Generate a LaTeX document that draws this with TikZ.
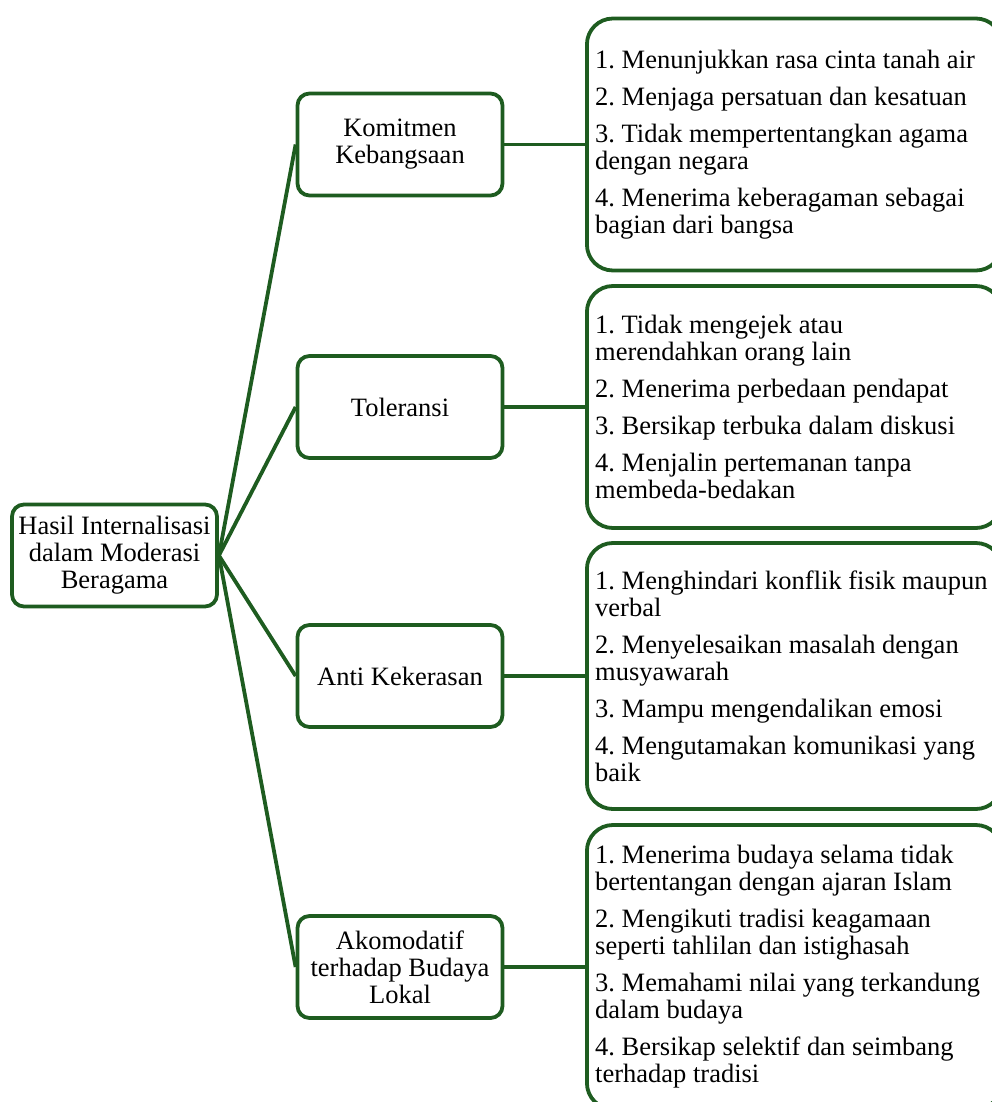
\documentclass[tikz,border=0pt]{standalone}
\usepackage{fontspec}
\setmainfont{Liberation Serif}
\definecolor{dg}{RGB}{30,92,32}
\newcommand{\dfont}{\fontsize{26.5}{27}\selectfont\frenchspacing}
\begin{document}
\begin{tikzpicture}[x=1pt,y=-1pt,
  box/.style={draw=dg, line width=3.8pt, rounded corners=12pt, minimum width=205pt, minimum height=102pt, align=center, font=\dfont, inner sep=0pt},
  list/.style={draw=dg, line width=3.8pt, rounded corners=26pt, minimum width=415pt, anchor=west, inner sep=0pt},
  txt/.style={anchor=west, align=left, font=\dfont, inner sep=0pt},
  conn/.style={draw=dg, line width=3.8pt}]
\useasboundingbox (0,0) rectangle (992,1102);

\node[box] (root) at (114.5,555.5) {Hasil Internalisasi\\dalam Moderasi\\Beragama};

\node[box] (m1) at (400,144.5) {Komitmen\\Kebangsaan};
\node[box] (m2) at (400,407) {Toleransi};
\node[box] (m3) at (400,676) {Anti Kekerasan};
\node[box] (m4) at (400,967) {Akomodatif\\terhadap Budaya\\Lokal};

\node[list, minimum height=252pt] (l1) at (585,144.5) {};
\node[list, minimum height=242pt] (l2) at (585,407) {};
\node[list, minimum height=266pt] (l3) at (585,676) {};
\node[list, minimum height=284pt] (l4) at (585,967) {};

\node[txt] (t1) at ([xshift=10pt]l1.west) {1. Menunjukkan rasa cinta tanah air\\[10pt]2. Menjaga persatuan dan kesatuan\\[10pt]3. Tidak mempertentangkan agama\\dengan negara\\[10pt]4. Menerima keberagaman sebagai\\bagian dari bangsa};
\node[txt] (t2) at ([xshift=10pt]l2.west) {1. Tidak mengejek atau\\merendahkan orang lain\\[10pt]2. Menerima perbedaan pendapat\\[10pt]3. Bersikap terbuka dalam diskusi\\[10pt]4. Menjalin pertemanan tanpa\\membeda-bedakan};
\node[txt] (t3) at ([xshift=10pt]l3.west) {1. Menghindari konflik fisik maupun\\verbal\\[10pt]2. Menyelesaikan masalah dengan\\musyawarah\\[10pt]3. Mampu mengendalikan emosi\\[10pt]4. Mengutamakan komunikasi yang\\baik};
\node[txt] (t4) at ([xshift=10pt]l4.west) {1. Menerima budaya selama tidak\\bertentangan dengan ajaran Islam\\[10pt]2. Mengikuti tradisi keagamaan\\seperti tahlilan dan istighasah\\[10pt]3. Memahami nilai yang terkandung\\dalam budaya\\[10pt]4. Bersikap selektif dan seimbang\\terhadap tradisi};

\foreach \i in {1,2,3,4} {
  \draw[conn] (root.east) -- (m\i.west);
  \draw[conn] (m\i.east) -- (l\i.west);
}
\end{tikzpicture}
\end{document}
